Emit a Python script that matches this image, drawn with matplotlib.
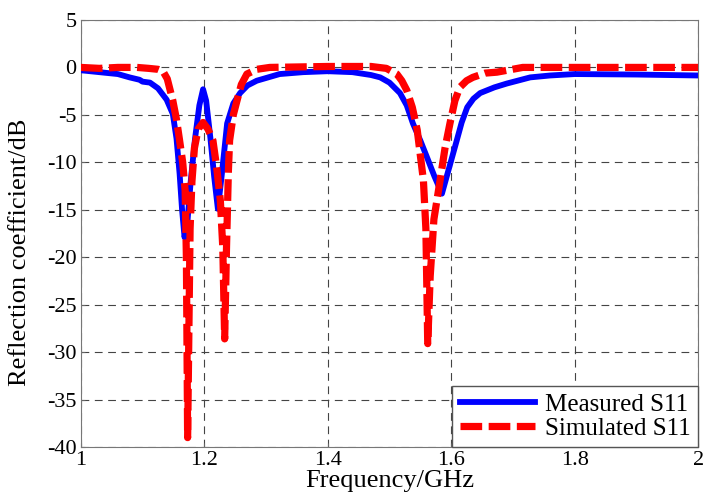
import matplotlib.pyplot as plt
from matplotlib.ticker import FixedLocator, FuncFormatter

# Measured S11 (GHz, dB)
meas_f = [1.00, 1.03, 1.06, 1.079, 1.095, 1.10, 1.112, 1.125, 1.139, 1.149, 1.155,
          1.160, 1.164, 1.168, 1.173, 1.178, 1.185, 1.192, 1.198, 1.203, 1.210, 1.216,
          1.222, 1.228, 1.237, 1.247, 1.258, 1.27, 1.285, 1.322, 1.36, 1.40, 1.44,
          1.47, 1.485, 1.50, 1.517, 1.528, 1.538, 1.55, 1.561, 1.573, 1.585, 1.597,
          1.609, 1.617, 1.626, 1.636, 1.647, 1.67, 1.69, 1.728, 1.76, 1.80, 1.90, 2.00]
meas_db = [-0.3, -0.5, -0.7, -1.05, -1.3, -1.5, -1.6, -2.2, -3.4, -4.9, -7.5,
           -11.2, -15.0, -17.9, -16.0, -12.0, -7.5, -4.0, -2.3, -3.5, -7.5, -11.5,
           -14.9, -11.5, -5.9, -3.8, -2.7, -1.9, -1.4, -0.7, -0.5, -0.4, -0.5,
           -0.8, -1.05, -1.6, -2.7, -4.0, -5.9, -7.7, -9.5, -11.5, -13.3, -10.5,
           -7.7, -5.8, -4.2, -3.3, -2.7, -2.1, -1.7, -1.05, -0.85, -0.7, -0.75, -0.85]

# Simulated S11 (GHz, dB)
sim_f = [1.00, 1.03, 1.06, 1.091, 1.11, 1.125, 1.133, 1.14, 1.149, 1.155, 1.160,
         1.165, 1.169, 1.171, 1.173, 1.175, 1.177, 1.180, 1.184, 1.19, 1.198, 1.206,
         1.214, 1.220, 1.226, 1.230, 1.233, 1.236, 1.239, 1.241, 1.247, 1.253, 1.26,
         1.269, 1.285, 1.306, 1.40, 1.47, 1.495, 1.512, 1.520, 1.528, 1.537, 1.545,
         1.555, 1.559, 1.562, 1.566, 1.572, 1.582, 1.590, 1.598, 1.606, 1.614, 1.625,
         1.635, 1.655, 1.674, 1.716, 1.80, 1.90, 2.00]
sim_db = [0.0, -0.1, 0.0, 0.0, -0.1, -0.2, -0.4, -1.2, -3.5, -5.5, -7.7,
          -10.0, -13.0, -20.0, -39.0, -28.0, -17.0, -12.0, -8.5, -6.5, -5.8, -6.5,
          -7.7, -10.5, -14.0, -19.0, -28.6, -19.0, -11.0, -7.7, -5.0, -3.5, -1.8,
          -0.7, -0.2, 0.0, 0.1, 0.1, -0.1, -0.7, -1.4, -2.4, -4.2, -6.6,
          -11.9, -17.0, -29.1, -22.0, -16.0, -11.9, -8.5, -5.9, -3.5, -2.1, -1.4,
          -1.05, -0.6, -0.5, 0.0, 0.0, 0.0, 0.0]

xticks = [1, 1.2, 1.4, 1.6, 1.8, 2]
yticks = list(range(-40, 6, 5))

plt.rcParams['font.family'] = ['Liberation Serif', 'DejaVu Serif']

fig = plt.figure(figsize=(7.03, 4.99), dpi=100)
ax = fig.add_axes([0.115, 0.104, 0.878, 0.856])

ax.plot(meas_f, meas_db, color='#0000ff', lw=4.2, label='Measured S11', zorder=3)
ax.plot(sim_f, sim_db, color='#ff0000', lw=5.2, linestyle=(0, (3.0, 0.9)),
        label='Simulated S11', zorder=4)

ax.set_xlim(1, 2)
ax.set_ylim(-40, 5)
ax.xaxis.set_major_locator(FixedLocator(xticks))
ax.yaxis.set_major_locator(FixedLocator(yticks))
ax.xaxis.set_major_formatter(FuncFormatter(lambda v, p: f'{v:g}'))
ax.yaxis.set_major_formatter(FuncFormatter(lambda v, p: f'{v:g}'))
ax.tick_params(direction='in', labelsize=16, length=3, color='#666666', pad=3)
ax.grid(True, color='#444444', linestyle=(0, (7, 5)), lw=0.8)
for s in ax.spines.values():
    s.set_color('#777777')

ax.set_xlabel('Frequency/GHz', fontsize=19, labelpad=0)
ax.set_ylabel('Reflection coefficient/dB', fontsize=19)
ax.yaxis.set_label_coords(-0.08, 0.457)

leg = ax.legend(loc='lower right', fontsize=18, handlelength=3.0, handletextpad=0.4,
                fancybox=False, framealpha=1, edgecolor='#555555', borderaxespad=0.0,
                borderpad=0.3, labelspacing=0.05)
leg.get_frame().set_linewidth(1.0)

fig.savefig('out.png', dpi=100)
